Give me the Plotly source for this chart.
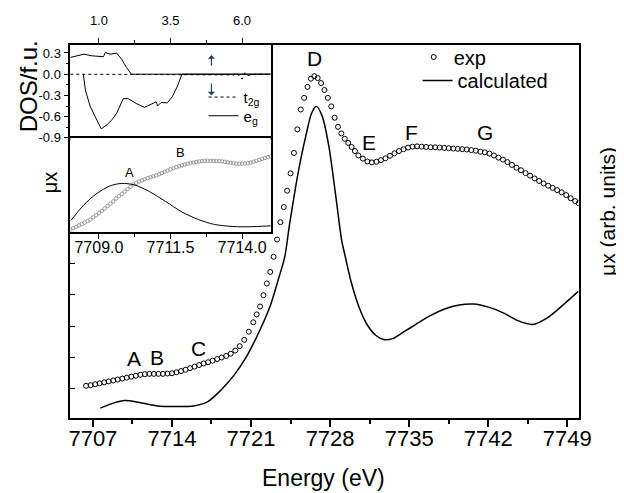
import plotly.graph_objects as go

W, H = 624, 493
def fx(p):
    return p / W
def fy(p):
    return 1 - p / H

# ---------------- main panel data ----------------
exp_energy = [7706.4, 7706.8, 7707.2, 7707.6, 7708.0, 7708.4, 7708.8, 7709.2, 7709.6, 7710.0,
              7710.4, 7710.8, 7711.2, 7711.6, 7712.0, 7712.4, 7712.8, 7713.2, 7713.6, 7714.0,
              7714.4, 7714.8, 7715.2, 7715.6, 7716.0, 7716.4, 7716.8, 7717.2, 7717.6, 7718.0,
              7718.4, 7718.8, 7719.2, 7719.6, 7720.0, 7720.4, 7720.8, 7721.2,
              7721.5, 7721.8, 7722.1, 7722.4, 7722.7, 7723.0, 7723.3, 7723.6, 7723.9, 7724.2,
              7724.5, 7724.8, 7725.1, 7725.4, 7725.7, 7726.0, 7726.3, 7726.6, 7726.9, 7727.2,
              7727.5, 7727.8, 7728.1, 7728.4, 7728.7, 7729.0, 7729.3, 7729.6, 7729.9, 7730.2,
              7730.5, 7730.9, 7731.3, 7731.7, 7732.1, 7732.5, 7732.9, 7733.3, 7733.7, 7734.1,
              7734.5, 7734.9, 7735.3, 7735.7, 7736.1, 7736.5, 7736.9, 7737.3, 7737.7, 7738.1,
              7738.5, 7738.9, 7739.3, 7739.7, 7740.1, 7740.5, 7740.9, 7741.3, 7741.7, 7742.1,
              7742.5, 7742.9, 7743.3, 7743.7, 7744.1, 7744.5, 7744.9, 7745.3, 7745.7, 7746.1,
              7746.5, 7746.9, 7747.3, 7747.7, 7748.1, 7748.5, 7748.9, 7749.3, 7749.7, 7750.0]
exp_mu = [1.10, 1.12, 1.15, 1.18, 1.21, 1.24, 1.27, 1.30, 1.33, 1.36,
          1.39, 1.42, 1.45, 1.47, 1.48, 1.48, 1.48, 1.48, 1.49, 1.50,
          1.53, 1.57, 1.61, 1.66, 1.71, 1.76, 1.81, 1.85, 1.90, 1.95,
          2.00, 2.05, 2.12, 2.22, 2.36, 2.56, 2.82, 3.12,
          3.37, 3.62, 3.98, 4.35, 4.72, 5.20, 5.75, 6.30, 6.78, 7.30,
          7.85, 8.50, 9.25, 9.88, 10.25, 10.60, 10.86, 10.94, 10.88, 10.72,
          10.50, 10.25, 9.98, 9.62, 9.33, 9.12, 8.95, 8.82, 8.69, 8.56,
          8.42, 8.32, 8.23, 8.20, 8.22, 8.27, 8.33, 8.41, 8.49, 8.56,
          8.62, 8.67, 8.70, 8.71, 8.70, 8.69, 8.68, 8.68, 8.67, 8.66,
          8.65, 8.64, 8.63, 8.62, 8.61, 8.59, 8.57, 8.54, 8.52, 8.48,
          8.42, 8.35, 8.29, 8.21, 8.12, 8.03, 7.95, 7.86, 7.78, 7.69,
          7.61, 7.53, 7.46, 7.39, 7.32, 7.25, 7.16, 7.06, 6.97, 6.90]

calc_energy = [7707.65, 7708.81, 7709.82, 7711.12, 7712.56, 7714.30, 7716.03, 7717.18, 7718.35,
               7719.50, 7720.65, 7721.81, 7722.68, 7723.40, 7723.98, 7724.41, 7725.13, 7725.85,
               7726.37, 7726.78, 7727.30, 7727.88, 7728.45, 7729.03, 7729.29, 7729.90, 7730.59,
               7731.28, 7732.06, 7732.76, 7733.54, 7734.41, 7735.53, 7736.83, 7738.13, 7739.43,
               7740.73, 7742.03, 7743.33, 7744.63, 7745.93, 7747.23, 7748.53, 7749.97]
calc_mu = [0.39, 0.55, 0.63, 0.57, 0.47, 0.44, 0.47, 0.60, 0.97,
           1.44, 2.06, 2.89, 3.62, 4.46, 5.19, 6.23, 7.79, 9.04,
           9.77, 9.98, 9.67, 8.73, 7.27, 5.71, 5.29, 4.35, 3.57,
           3.04, 2.70, 2.57, 2.60, 2.79, 3.04, 3.32, 3.54, 3.67,
           3.70, 3.60, 3.42, 3.17, 3.05, 3.26, 3.64, 4.10]

main_labels = ["A", "B", "C", "D", "E", "F", "G"]
main_label_x = [7710.68, 7712.71, 7716.32, 7726.58, 7731.48, 7735.24, 7741.74]
main_label_y = [1.96, 2.01, 2.29, 11.49, 8.83, 9.14, 9.14]
main_xticks = [7707, 7714, 7721, 7728, 7735, 7742, 7749]

# ---------------- inset: DOS ----------------
eg_up_x = [0.0, 0.48, 0.75, 1.05, 1.16, 1.22, 1.39, 1.62, 1.79, 1.96, 2.13, 7.0]
eg_up_y = [0.237, 0.283, 0.26, 0.247, 0.247, 0.307, 0.283, 0.297, 0.213, 0.098, 0.0, 0.0]
eg_dn_x = [0.455, 0.53, 0.70, 0.88, 1.08, 1.28, 1.45, 1.62, 1.73, 1.85, 2.02, 2.30, 2.59,
           2.88, 3.00, 3.05, 3.17, 3.39, 3.56, 3.73, 3.90, 7.0]
eg_dn_y = [0.0, -0.23, -0.46, -0.60, -0.772, -0.716, -0.646, -0.553, -0.46, -0.345, -0.345,
           -0.414, -0.47, -0.405, -0.39, -0.45, -0.40, -0.405, -0.32, -0.18, 0.0, 0.0]
t2g_x = [0.0, 5.4, 5.6, 5.7, 5.8, 5.9, 6.0, 6.1, 6.2, 6.4, 7.0]
t2g_y = [0.0, 0.0, -0.01, -0.01, 0.02, -0.02, -0.07, 0.02, -0.02, 0.0, 0.0]
dos_xticks = [1.0, 3.5, 6.0]
dos_yticks = [-0.9, -0.6, -0.3, 0.0, 0.3]
dos_yticktext = ["-0.9", "-0.6", "-0.3", "0.0", "0.3"]

# ---------------- inset: pre-edge ----------------
pre_exp_energy = [7708.0, 7708.1, 7708.2, 7708.3, 7708.4, 7708.5, 7708.6, 7708.7, 7708.8, 7708.9,
                  7709.0, 7709.1, 7709.2, 7709.3, 7709.4, 7709.5, 7709.6, 7709.7, 7709.8, 7709.9,
                  7710.0, 7710.1, 7710.2, 7710.3, 7710.4, 7710.5, 7710.6, 7710.7, 7710.8, 7710.9,
                  7711.0, 7711.1, 7711.2, 7711.3, 7711.4, 7711.5, 7711.6, 7711.7, 7711.8, 7711.9,
                  7712.0, 7712.1, 7712.2, 7712.3, 7712.4, 7712.5, 7712.6, 7712.7, 7712.8, 7712.9,
                  7713.0, 7713.1, 7713.2, 7713.3, 7713.4, 7713.5, 7713.6, 7713.7, 7713.8, 7713.9,
                  7714.0, 7714.1, 7714.2, 7714.3, 7714.4, 7714.5, 7714.6, 7714.7, 7714.8, 7714.9,
                  7715.0]
pre_exp_mu = [0.025, 0.04, 0.055, 0.07, 0.085, 0.10, 0.117, 0.133, 0.155, 0.178,
              0.20, 0.225, 0.25, 0.275, 0.30, 0.325, 0.355, 0.38, 0.405, 0.43,
              0.455, 0.48, 0.505, 0.522, 0.535, 0.548, 0.56, 0.572, 0.582, 0.592,
              0.60, 0.613, 0.626, 0.64, 0.652, 0.665, 0.677, 0.688, 0.698, 0.708,
              0.717, 0.725, 0.732, 0.738, 0.744, 0.749, 0.753, 0.755, 0.756, 0.756,
              0.755, 0.754, 0.752, 0.75, 0.745, 0.74, 0.735, 0.73, 0.726, 0.725,
              0.726, 0.728, 0.732, 0.738, 0.746, 0.756, 0.766, 0.776, 0.786, 0.795,
              0.803]
pre_calc_energy = [7708.02, 7708.48, 7708.93, 7709.39, 7709.79, 7710.25, 7710.76, 7711.33,
                   7711.90, 7712.47, 7713.04, 7713.84, 7714.50, 7715.04]
pre_calc_mu = [0.122, 0.29, 0.41, 0.49, 0.516, 0.50, 0.43, 0.324,
               0.213, 0.133, 0.08, 0.056, 0.058, 0.067]
pre_labels = ["A", "B"]
pre_label_x = [7710.08, 7711.85]
pre_label_y = [0.63, 0.84]
pre_xticks = [7709.0, 7711.5, 7714.0]

FONT = "Liberation Sans, Arial, sans-serif"
fig = go.Figure()

fig.add_trace(go.Scatter(x=exp_energy, y=exp_mu, mode="markers", name="exp",
                         marker=dict(symbol="circle-open", size=5, color="black", line=dict(width=1)),
                         xaxis="x", yaxis="y", legend="legend"))
fig.add_trace(go.Scatter(x=calc_energy, y=calc_mu, mode="lines", name="calculated",
                         line=dict(color="black", width=1.5, shape="spline", smoothing=0.8),
                         xaxis="x", yaxis="y", legend="legend3"))

fig.add_trace(go.Scatter(x=t2g_x, y=t2g_y, mode="lines", name="t<sub>2g</sub>",
                         line=dict(color="black", width=1, dash="dot"),
                         xaxis="x2", yaxis="y2", legend="legend2"))
fig.add_trace(go.Scatter(x=eg_up_x, y=eg_up_y, mode="lines", name="e<sub>g</sub>",
                         legendgroup="eg", line=dict(color="black", width=1),
                         xaxis="x2", yaxis="y2", legend="legend4"))
fig.add_trace(go.Scatter(x=eg_dn_x, y=eg_dn_y, mode="lines", name="e<sub>g</sub>",
                         legendgroup="eg", showlegend=False, line=dict(color="black", width=1),
                         xaxis="x2", yaxis="y2", legend="legend4"))

fig.add_trace(go.Scatter(x=pre_exp_energy, y=pre_exp_mu, mode="markers", showlegend=False,
                         marker=dict(symbol="circle-open", size=3.5, color="#9a9a9a", line=dict(width=1)),
                         xaxis="x3", yaxis="y3"))
fig.add_trace(go.Scatter(x=pre_calc_energy, y=pre_calc_mu, mode="lines", showlegend=False,
                         line=dict(color="black", width=1, shape="spline", smoothing=0.8),
                         xaxis="x3", yaxis="y3"))

main_xdom = [fx(62.7), fx(582.7)]
main_ydom = [fy(417), fy(37.3)]
ins_xdom = [fx(62.7), fx(267.7)]
dos_ydom = [fy(132), fy(37.3)]
pre_ydom = [fy(227.7), fy(132)]

axis_common = dict(showgrid=False, zeroline=False, color="black",
                   linecolor="black", tickcolor="black")

def leg(x, y, size):
    return dict(x=fx(x), y=fy(y), xanchor="left", yanchor="top", bgcolor="rgba(0,0,0,0)",
                font=dict(size=size), tracegroupgap=0)

fig.update_layout(
    width=W, height=H, margin=dict(l=0, r=0, t=0, b=0),
    paper_bgcolor="white", plot_bgcolor="white",
    font=dict(family=FONT, color="black"),
    xaxis=dict(domain=main_xdom, range=[7705, 7750], anchor="y",
               tickvals=main_xticks, ticktext=[str(v) for v in main_xticks],
               ticks="outside", ticklen=7, tickwidth=1.5, ticklabelstandoff=-8,
               minor=dict(tickvals=[7710.5, 7717.5, 7724.5, 7731.5, 7738.5, 7745.5],
                          ticks="outside", ticklen=4, tickwidth=1.5, tickcolor="black"),
               tickfont=dict(size=22), showline=True, linewidth=2, mirror=True, **axis_common),
    yaxis=dict(domain=main_ydom, range=[0.07, 11.94], anchor="x",
               tickvals=[1, 2, 3, 4, 5], ticks="inside", ticklen=5, tickwidth=1,
               showticklabels=False, showline=True, linewidth=2, mirror=True, **axis_common),
    yaxis4=dict(overlaying="y", side="right", anchor="x", range=[0.07, 11.94],
                tickvals=list(range(1, 12)), ticks="inside", ticklen=5, tickwidth=1,
                showticklabels=False, showline=False, **axis_common),
    xaxis2=dict(domain=ins_xdom, range=[0, 7], anchor="y2", side="top",
                tickvals=dos_xticks, ticktext=["1.0", "3.5", "6.0"],
                ticks="outside", ticklen=5, tickwidth=1, ticklabelstandoff=8,
                minor=dict(tickvals=[2.25, 4.75], ticks="outside", ticklen=3, tickcolor="black"),
                tickfont=dict(size=13), showline=True, linewidth=1.5, mirror="ticks", **axis_common),
    yaxis2=dict(domain=dos_ydom, range=[-0.9, 0.417], anchor="x2",
                tickvals=dos_yticks, ticktext=dos_yticktext,
                ticks="outside", ticklen=5, tickwidth=1,
                minor=dict(tickvals=[-0.75, -0.45, -0.15, 0.15], ticks="outside", ticklen=3,
                           tickcolor="black"),
                tickfont=dict(size=13), showline=True, linewidth=1.5, mirror=True, **axis_common),
    xaxis3=dict(domain=ins_xdom, range=[7708, 7715], anchor="y3",
                tickvals=pre_xticks, ticktext=["7709.0", "7711.5", "7714.0"],
                ticks="outside", ticklen=5, tickwidth=1, ticklabelstandoff=-5,
                minor=dict(tickvals=[7710.25, 7712.75], ticks="outside", ticklen=3, tickcolor="black"),
                tickfont=dict(size=16), showline=True, linewidth=1.5, mirror=True, **axis_common),
    yaxis3=dict(domain=pre_ydom, range=[0, 1], anchor="x3", showticklabels=False, ticks="",
                showline=True, linewidth=1.5, mirror=True, **axis_common),
    legend=leg(414, 30, 20),
    legend3=leg(418, 54, 20),
    legend2=leg(199, 74, 15),
    legend4=leg(199, 93, 15),
)

ann = []
for t, x, y in zip(main_labels, main_label_x, main_label_y):
    ann.append(dict(text=t, x=x, y=y, xref="x", yref="y", showarrow=False,
                    font=dict(size=21)))
for t, x, y in zip(pre_labels, pre_label_x, pre_label_y):
    ann.append(dict(text=t, x=x, y=y, xref="x3", yref="y3", showarrow=False,
                    font=dict(size=13)))
# spin arrows
ann.append(dict(text="", x=4.93, y=0.27, ax=4.93, ay=0.10, xref="x2", yref="y2",
                axref="x2", ayref="y2", showarrow=True, arrowhead=1, arrowsize=1, arrowwidth=1.2))
ann.append(dict(text="", x=4.93, y=-0.30, ax=4.93, ay=-0.11, xref="x2", yref="y2",
                axref="x2", ayref="y2", showarrow=True, arrowhead=1, arrowsize=1, arrowwidth=1.2))
# axis titles
ann.append(dict(text="Energy (eV)", x=fx(322), y=fy(478), xref="paper", yref="paper",
                showarrow=False, font=dict(size=23), xanchor="center", yanchor="middle"))
ann.append(dict(text="μx (arb. units)", x=fx(612), y=fy(207), xref="paper", yref="paper",
                showarrow=False, textangle=-90, font=dict(size=21), xanchor="center", yanchor="middle"))
ann.append(dict(text="DOS/f.u.", x=fx(20), y=fy(80), xref="paper", yref="paper",
                showarrow=False, textangle=-90, font=dict(size=24), xanchor="center", yanchor="middle"))
ann.append(dict(text="μx", x=fx(42), y=fy(177), xref="paper", yref="paper",
                showarrow=False, textangle=-90, font=dict(size=20), xanchor="center", yanchor="middle"))
fig.update_layout(annotations=ann)

fig.write_html("out.html")
